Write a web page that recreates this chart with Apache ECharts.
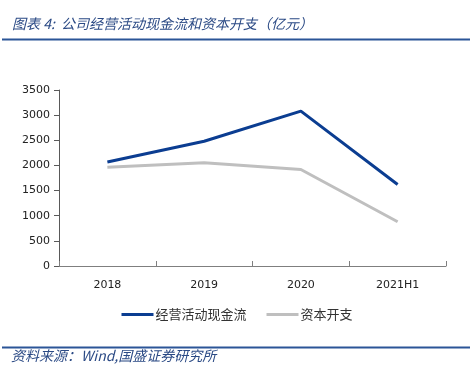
<!DOCTYPE html>
<html><head><meta charset="utf-8">
<script src="https://cdn.jsdelivr.net/npm/echarts@6/dist/echarts.min.js"></script>
<style>html,body{margin:0;padding:0;background:#fff;}#c{width:474px;height:374px;}</style>
</head><body><div id="c"></div>
<script>
const categories = ['2018', '2019', '2020', '2021H1'];
const cashFlow = [2070, 2480, 3080, 1620];
const capex = [1965, 2055, 1920, 880];
const yTicks = [0, 500, 1000, 1500, 2000, 2500, 3000, 3500];

const chart = echarts.init(document.getElementById('c'));
chart.setOption({
  animation: false,
  backgroundColor: '#fff',
  grid: { left: 59, right: 28, top: 90, bottom: 108 },
  title: {
    text: '图表 4:  公司经营活动现金流和资本开支（亿元）',
    left: 7, top: 12,
    textStyle: { fontSize: 14, fontWeight: 'normal', fontStyle: 'italic', color: '#2b4a85', fontFamily: 'Noto Sans CJK SC' }
  },
  graphic: [
    { type: 'line', shape: { x1: 2, y1: 39.5, x2: 470, y2: 39.5 }, style: { stroke: '#2b5597', lineWidth: 2 } },
    { type: 'line', shape: { x1: 2, y1: 347.5, x2: 470, y2: 347.5 }, style: { stroke: '#2b5597', lineWidth: 2 } },
    { type: 'text', left: 11, top: 349, style: { text: '资料来源：Wind,国盛证券研究所', fontSize: 14, fontStyle: 'italic', fill: '#2b4a85', fontFamily: 'Noto Sans CJK SC' } }
  ],
  legend: {
    bottom: 48, left: 'center', itemGap: 20, itemWidth: 32, itemHeight: 3,
    icon: 'rect',
    textStyle: { fontSize: 13, color: '#333', fontFamily: 'Noto Sans CJK SC', padding: [0, 0, 0, -3] },
    data: ['经营活动现金流', '资本开支']
  },
  xAxis: {
    type: 'category', data: categories, boundaryGap: true,
    axisLine: { lineStyle: { color: '#7f7f7f', width: 1 } },
    axisTick: { show: true, alignWithLabel: false, length: 5, inside: true, lineStyle: { color: '#7f7f7f' } },
    axisLabel: { fontSize: 11, color: '#222', margin: 14, fontFamily: 'DejaVu Sans' }
  },
  yAxis: {
    type: 'value', min: 0, max: 3500, interval: 500,
    axisLine: { show: true, lineStyle: { color: '#595959', width: 1 } },
    axisTick: { show: true, length: 5, lineStyle: { color: '#595959' } },
    splitLine: { show: false },
    axisLabel: { fontSize: 11, color: '#222', margin: 9, fontFamily: 'DejaVu Sans',
      formatter: v => yTicks.includes(v) ? String(v) : '' }
  },
  series: [
    { name: '经营活动现金流', type: 'line', data: cashFlow, symbol: 'none',
      lineStyle: { color: '#0b3d91', width: 3 }, itemStyle: { color: '#0b3d91' } },
    { name: '资本开支', type: 'line', data: capex, symbol: 'none',
      lineStyle: { color: '#bfbfbf', width: 3 }, itemStyle: { color: '#bfbfbf' } }
  ]
});
</script></body></html>
